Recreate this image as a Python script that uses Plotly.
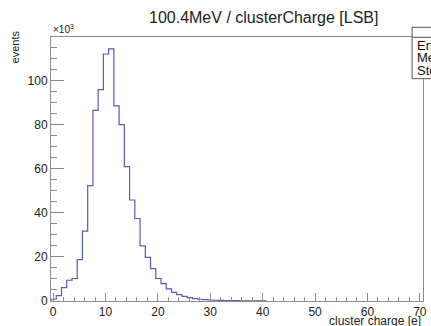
import plotly.graph_objects as go

# histogram: bin lower edges (cluster charge [e]) and counts in units of 10^3 events
bin_width = 1.0
bin_lo = [-0.4 + i for i in range(41)]
counts_k = [0.8, 2.4, 6.1, 9.4, 10.2, 18.8, 31.7, 52.3, 86.4, 95.8,
            112.0, 114.3, 88.5, 80.0, 60.9, 45.8, 37.4, 25.0, 19.8, 14.7,
            10.2, 7.9, 5.5, 3.9, 2.9, 2.1, 1.5, 1.1, 0.8, 0.6,
            0.45, 0.35, 0.28, 0.22, 0.18, 0.14, 0.11, 0.09, 0.07, 0.05, 0.04]

title_text = "100.4MeV / clusterCharge [LSB]"
x_title = "cluster charge [e]"
y_title = "events"
x_ticks = [0, 10, 20, 30, 40, 50, 60, 70]
y_ticks = [0, 20, 40, 60, 80, 100]
stats_labels = ["Entries", "Mean", "Std Dev"]

xs = [bin_lo[0]] + bin_lo + [bin_lo[-1] + bin_width]
ys = [0] + counts_k + [0]

W, H = 431, 326
ml, mr, mt, mb = 51, 4, 37, 25

fig = go.Figure()
fig.add_trace(go.Scatter(x=xs, y=ys, mode="lines", line_shape="hv",
                         line=dict(color="#5a5ab8", width=1.2),
                         hoverinfo="skip", showlegend=False))

axis_col = "#8c8c8c"
font = "Liberation Sans, Arial, sans-serif"
fig.update_layout(
    width=W, height=H, margin=dict(l=ml, r=mr, t=mt, b=mb),
    paper_bgcolor="white", plot_bgcolor="white",
    font=dict(family=font, color="#222222", size=12),
    showlegend=False,
    xaxis=dict(range=[-0.4, 70.6], tickvals=x_ticks, ticks="inside", ticklen=8,
               tickcolor=axis_col, showline=True, linecolor=axis_col, linewidth=1,
               mirror=True, showgrid=False, zeroline=False,
               minor=dict(dtick=2, ticks="inside", ticklen=4, tickcolor=axis_col),
               tickfont=dict(size=12, color="#222222")),
    yaxis=dict(range=[0, 119.7], tickvals=y_ticks, ticks="inside", ticklen=13,
               tickcolor=axis_col, showline=True, linecolor=axis_col, linewidth=1,
               mirror=True, showgrid=False, zeroline=False,
               minor=dict(dtick=5, ticks="inside", ticklen=6, tickcolor=axis_col),
               tickfont=dict(size=12, color="#222222")),
)

pw, ph = W - ml - mr, H - mt - mb
def px(xp):
    return (xp - ml) / pw
def py(yp):
    return 1 - (yp - mt) / ph

# title
fig.add_annotation(text=title_text, xref="paper", yref="paper",
                   x=px(266), y=py(18), xanchor="center", yanchor="middle", showarrow=False,
                   font=dict(size=16, color="#222222", family=font))
# axis titles
fig.add_annotation(text=x_title, xref="paper", yref="paper", x=px(427), y=py(321),
                   xanchor="right", yanchor="middle", showarrow=False,
                   font=dict(size=12, color="#222222", family=font))
fig.add_annotation(text=y_title, xref="paper", yref="paper",
                   x=px(15), y=py(47),
                   xanchor="center", yanchor="middle", textangle=-90, showarrow=False,
                   font=dict(size=11, color="#222222", family=font))
fig.add_annotation(text="×10<sup>3</sup>", xref="paper", yref="paper",
                   x=0, y=1, xanchor="left", yanchor="bottom", showarrow=False,
                   font=dict(size=10, color="#222222", family=font))

# stats box
fig.add_shape(type="rect", xref="paper", yref="paper", x0=px(416), x1=px(445),
              y0=py(78.7), y1=py(27.3), line=dict(color="#555555", width=1),
              fillcolor="white", layer="above")
fig.add_shape(type="line", xref="paper", yref="paper", x0=px(416), x1=px(445),
              y0=py(37.3), y1=py(37.3), line=dict(color="#555555", width=1), layer="above")
for i, lab in enumerate(stats_labels):
    fig.add_annotation(text=lab, xref="paper", yref="paper", x=px(419), y=py(45.5 + 12.4 * i),
                       xanchor="left", yanchor="middle", showarrow=False,
                       font=dict(size=13, color="#111111", family=font))

fig.write_html("out.html")
